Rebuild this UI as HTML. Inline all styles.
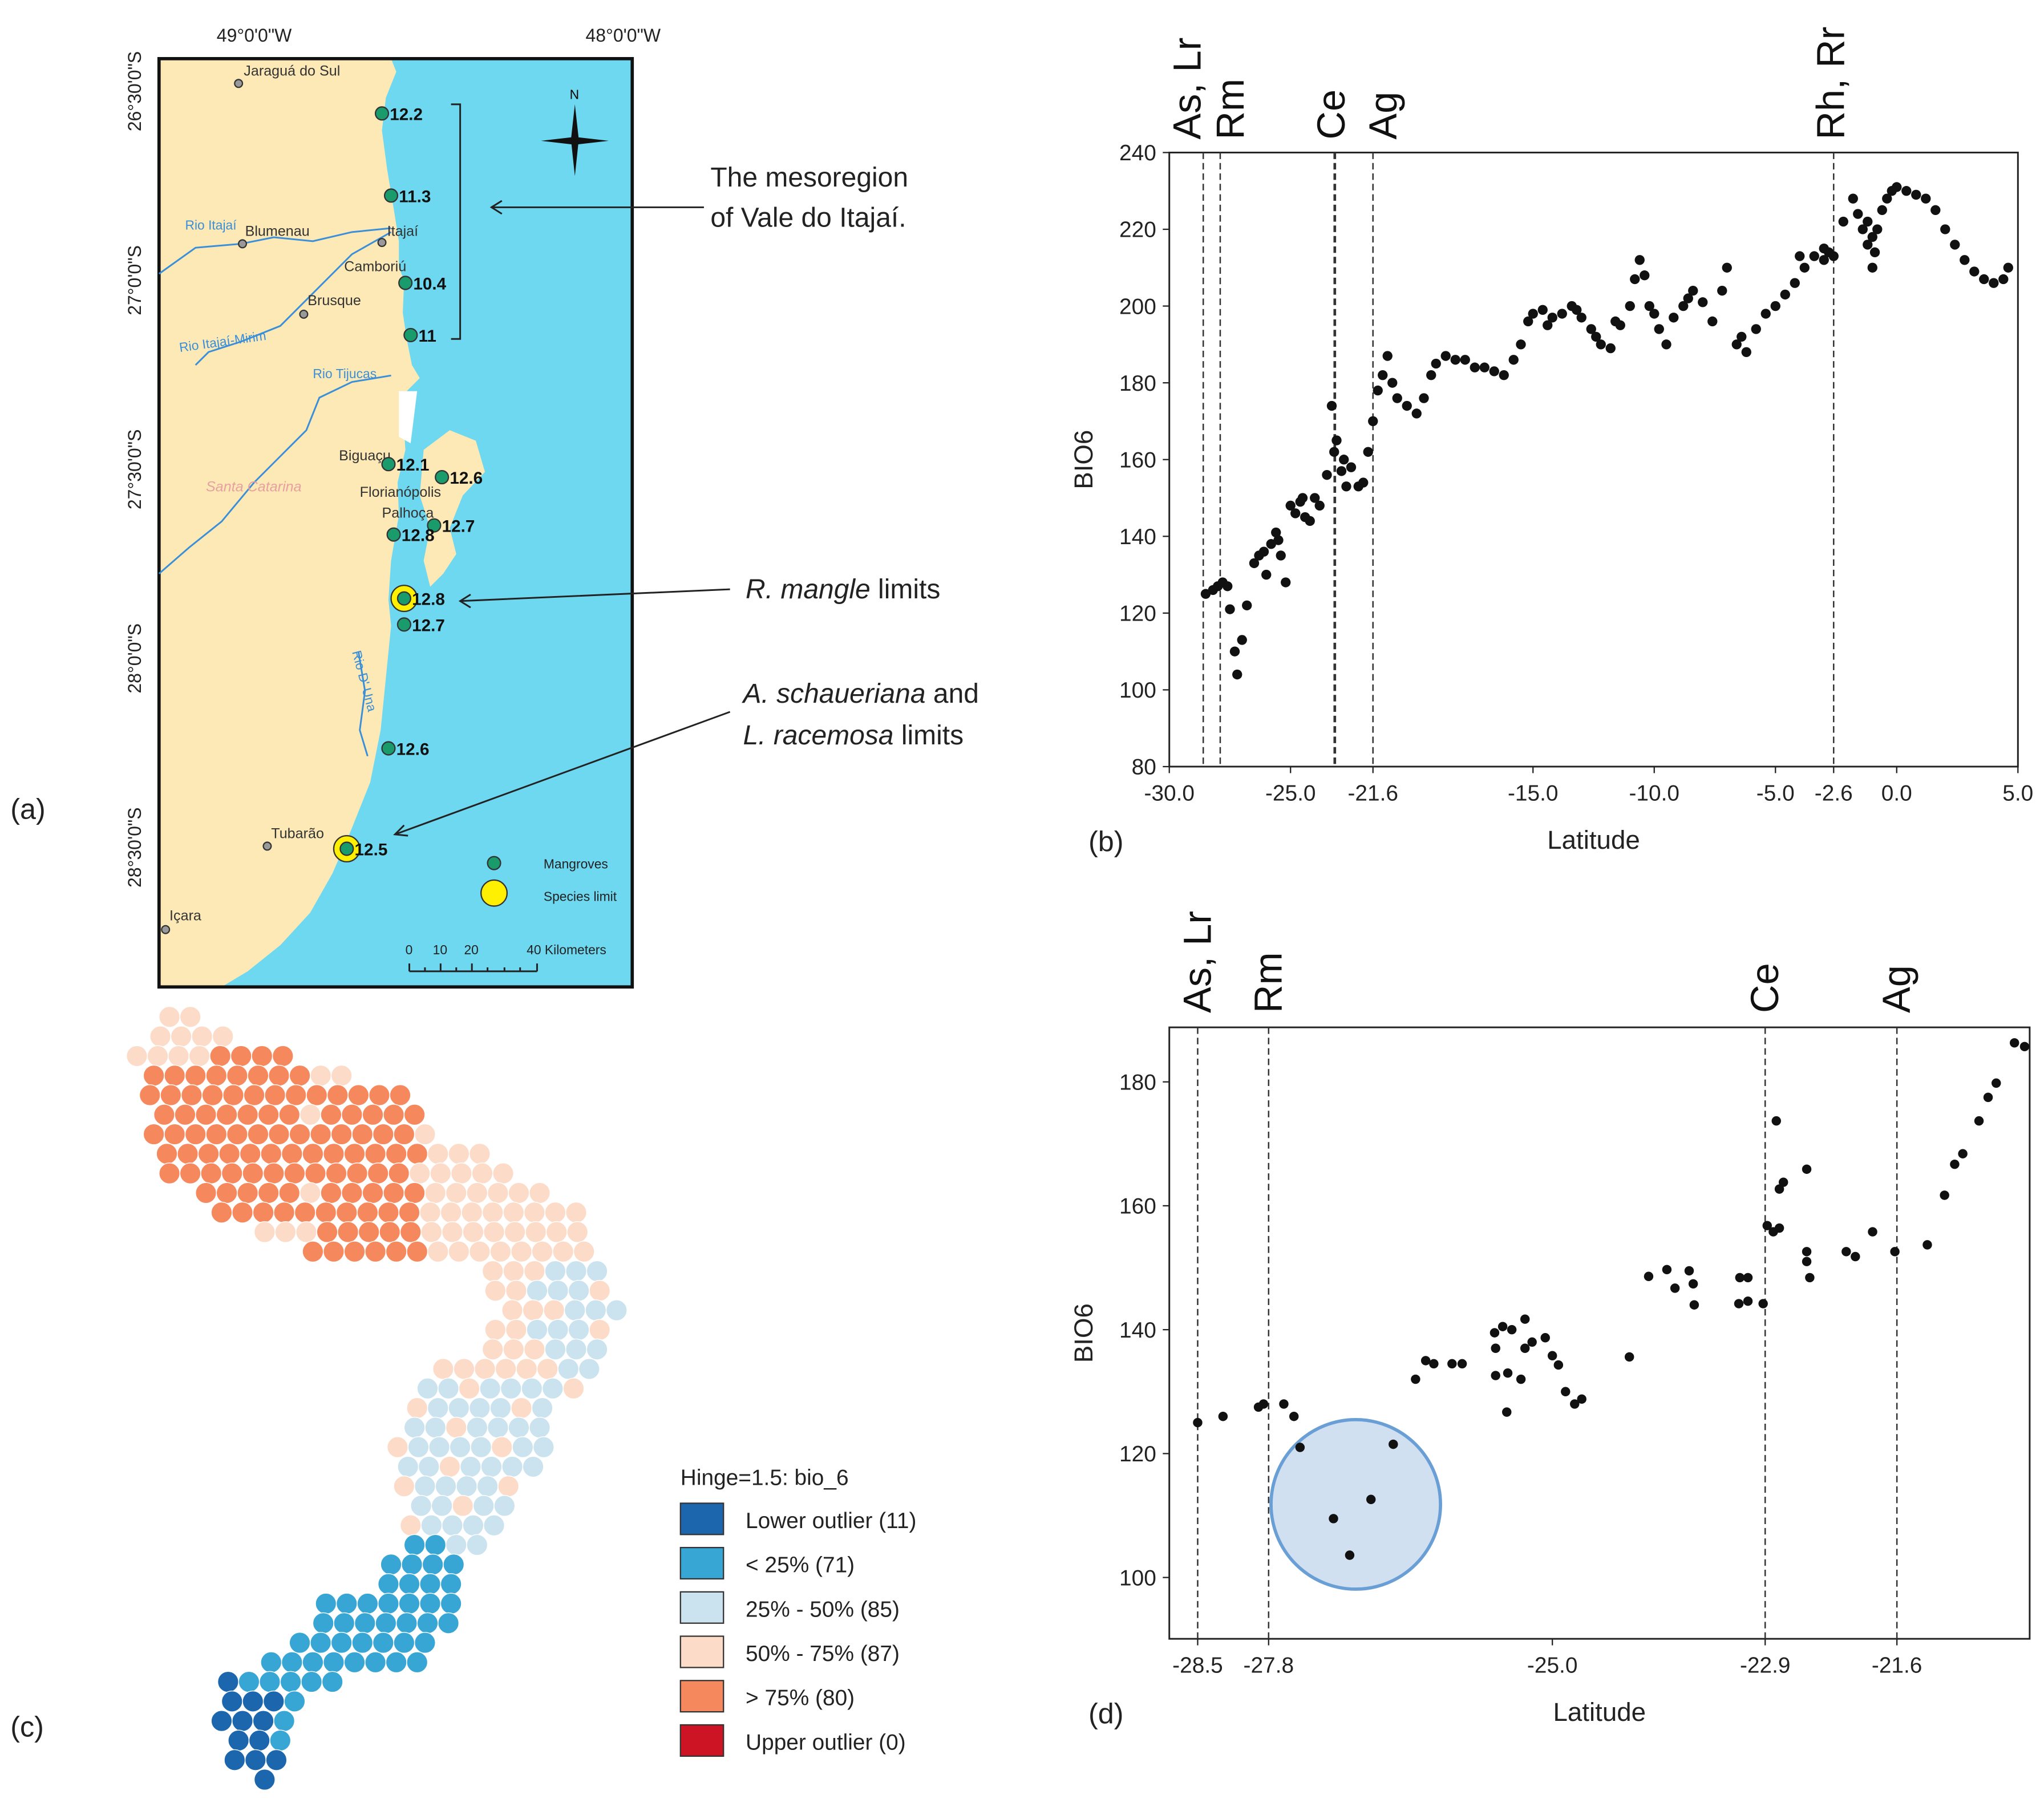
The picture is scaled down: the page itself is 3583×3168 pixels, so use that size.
<!DOCTYPE html>
<html><head><meta charset="utf-8"><style>
html,body{margin:0;padding:0;background:#fff}
svg{display:block}
text{font-family:"Liberation Sans",sans-serif}
</style></head><body>
<svg id="fig" xmlns="http://www.w3.org/2000/svg" width="3583" height="3168" viewBox="0 0 1568 1386" preserveAspectRatio="none">
<rect width="1568" height="1386" fill="#fff"/>

<!-- Panel a: map -->
<g>
  <rect x="122" y="45" width="363" height="712" fill="#6ed8f0"/>
  <path fill="#fde9b5" d="M122,45 L300,45 L304,55 L296,75 L293,100 L297,130 L302,160 L306,185 L306,205 L310,215 L309,240 L312,260 L316,280 L322,290 L312,300 L310,330 L311,345 L305,370 L306,395 L300,430 L298,460 L300,480 L296,520 L292,560 L284,600 L268,640 L255,670 L238,700 L215,725 L190,745 L170,757 L122,757 Z"/>
  <path fill="#fde9b5" d="M325,345 L345,330 L365,338 L372,362 L355,380 L345,405 L350,425 L340,440 L330,450 L325,430 L330,405 L322,380 Z"/>
  <path fill="#fff" d="M306,300 L320,300 L315,340 L306,335 Z"/>
  <rect x="122" y="45" width="363" height="712" fill="none" stroke="#111" stroke-width="2.5"/>
  <g fill="none" stroke="#3a8fd8" stroke-width="1.3">
    <path d="M122,210 L150,190 L185,187 L210,182 L240,185 L270,178 L300,175"/>
    <path d="M300,178 L270,195 L240,225 L215,250 L185,262 L160,270 L150,280"/>
    <path d="M300,288 L270,293 L245,305 L235,330 L215,350 L195,370 L170,400 L145,420 L122,440"/>
    <path d="M275,500 L280,530 L276,560 L282,580"/>
  </g>
  <g font-size="11" fill="#333">
    <text x="187" y="58">Jaraguá do Sul</text><circle cx="183" cy="64" r="3" fill="#999" stroke="#333"/>
    <text x="188" y="181">Blumenau</text><circle cx="186" cy="187" r="3" fill="#999" stroke="#333"/>
    <text x="297" y="181">Itajaí</text><circle cx="293" cy="186" r="3" fill="#999" stroke="#333"/>
    <text x="264" y="208">Camboriú</text>
    <text x="236" y="234">Brusque</text><circle cx="233" cy="241" r="3" fill="#999" stroke="#333"/>
    <text x="260" y="353">Biguaçu</text>
    <text x="276" y="381">Florianópolis</text>
    <text x="293" y="397">Palhoça</text>
    <text x="208" y="643">Tubarão</text><circle cx="205" cy="649" r="3" fill="#999" stroke="#333"/>
    <text x="130" y="706">Içara</text><circle cx="127" cy="713" r="3" fill="#999" stroke="#333"/>
    <text x="158" y="377" fill="#e8a0a0" font-style="italic">Santa Catarina</text>
  </g>
  <g font-size="10" fill="#3a8fd8">
    <text x="142" y="176">Rio Itajaí</text>
    <text x="138" y="270" transform="rotate(-8 138 270)">Rio Itajaí-Mirim</text>
    <text x="240" y="290">Rio Tijucas</text>
    <text x="270" y="500" transform="rotate(75 270 500)">Rio D' Una</text>
  </g>
  <g font-size="13" font-weight="bold" fill="#111">
    <circle cx="310" cy="459" r="10" fill="#ffef00" stroke="#333"/>
    <circle cx="266" cy="651" r="10" fill="#ffef00" stroke="#333"/>
    <g fill="#1a9b6c" stroke="#333" stroke-width="1">
      <circle cx="293" cy="87" r="5"/><circle cx="300" cy="150" r="5"/><circle cx="311" cy="217" r="5"/><circle cx="315" cy="257" r="5"/>
      <circle cx="298" cy="356" r="5"/><circle cx="339" cy="366" r="5"/><circle cx="302" cy="410" r="5"/><circle cx="333" cy="403" r="5"/>
      <circle cx="310" cy="459" r="5"/><circle cx="310" cy="479" r="5"/><circle cx="298" cy="574" r="5"/><circle cx="266" cy="651" r="5"/>
    </g>
    <text x="299" y="92">12.2</text><text x="306" y="155">11.3</text><text x="317" y="222">10.4</text><text x="321" y="262">11</text>
    <text x="304" y="361">12.1</text><text x="345" y="371">12.6</text><text x="308" y="415">12.8</text><text x="339" y="408">12.7</text>
    <text x="316" y="464">12.8</text><text x="316" y="484">12.7</text><text x="304" y="579">12.6</text><text x="272" y="656">12.5</text>
  </g>
  <path d="M346,80 L353,80 L353,260 L346,260" fill="none" stroke="#222" stroke-width="1.3"/>
  <g>
    <path d="M441,80 L444,107 L441,135 L438,107 Z M415,108 L441,105 L467,108 L441,111 Z" fill="#111"/>
    <text x="437" y="76" font-size="10" font-family="Liberation Serif,serif">N</text>
  </g>
  <g font-size="10" fill="#222">
    <circle cx="379" cy="662" r="5" fill="#1a9b6c" stroke="#333"/><text x="417" y="666">Mangroves</text>
    <circle cx="379" cy="685" r="10" fill="#ffef00" stroke="#333"/><text x="417" y="691">Species limit</text>
  </g>
  <g font-size="10" fill="#222">
    <text x="311" y="732">0</text><text x="332" y="732">10</text><text x="356" y="732">20</text><text x="404" y="732">40 Kilometers</text>
    <path d="M314,745 L412,745 M314,739 L314,745 M338,739 L338,745 M362,739 L362,745 M412,739 L412,745 M326,742 L326,745 M350,742 L350,745 M374,742 L374,745 M387,742 L387,745 M399,742 L399,745" stroke="#222" stroke-width="1.3"/>
  </g>
  <g font-size="14" fill="#222">
    <text x="195" y="32" text-anchor="middle">49°0'0"W</text>
    <text x="478" y="32" text-anchor="middle">48°0'0"W</text>
    <text transform="translate(108,70) rotate(-90)" text-anchor="middle">26°30'0"S</text>
    <text transform="translate(108,215) rotate(-90)" text-anchor="middle">27°0'0"S</text>
    <text transform="translate(108,360) rotate(-90)" text-anchor="middle">27°30'0"S</text>
    <text transform="translate(108,505) rotate(-90)" text-anchor="middle">28°0'0"S</text>
    <text transform="translate(108,650) rotate(-90)" text-anchor="middle">28°30'0"S</text>
  </g>
  <g font-size="21" fill="#222" font-family="Liberation Sans,sans-serif">
    <text x="545" y="143">The mesoregion</text>
    <text x="545" y="174">of Vale do Itajaí.</text>
    <path d="M540,159 L377,159 M385,154 L377,159 L385,164" fill="none" stroke="#222" stroke-width="1.3"/>
    <text x="572" y="459"><tspan font-style="italic">R. mangle</tspan> limits</text>
    <path d="M560,452 L353,461 M361,456 L353,461 L361,466" fill="none" stroke="#222" stroke-width="1.3"/>
    <text x="570" y="539"><tspan font-style="italic">A. schaueriana</tspan> and</text>
    <text x="570" y="571"><tspan font-style="italic">L. racemosa</tspan> limits</text>
    <path d="M560,546 L303,640 M310,633 L303,640 L313,641" fill="none" stroke="#222" stroke-width="1.3"/>
  </g>
  <text x="8" y="628" font-size="22" fill="#222">(a)</text>
</g>

<!-- Panel c -->
<g id="hexmap"></g>
<text x="8" y="1332" font-size="22" fill="#222">(c)</text>
<g font-size="17" fill="#222">
  <text x="522" y="1139">Hinge=1.5: bio_6</text>
  <rect x="522" y="1153" width="33" height="24" fill="#1b66ad" stroke="#333"/><text x="572" y="1172">Lower outlier (11)</text>
  <rect x="522" y="1187" width="33" height="24" fill="#38a6d4" stroke="#333"/><text x="572" y="1206">&lt; 25% (71)</text>
  <rect x="522" y="1221" width="33" height="24" fill="#cbe3ef" stroke="#333"/><text x="572" y="1240">25% - 50% (85)</text>
  <rect x="522" y="1255" width="33" height="24" fill="#fcdcc8" stroke="#333"/><text x="572" y="1274">50% - 75% (87)</text>
  <rect x="522" y="1289" width="33" height="24" fill="#f5895d" stroke="#333"/><text x="572" y="1308">&gt; 75% (80)</text>
  <rect x="522" y="1323" width="33" height="24" fill="#cc1424" stroke="#333"/><text x="572" y="1342">Upper outlier (0)</text>
</g>

<!-- Panel b -->
<g id="chartB"></g>
<!-- Panel d -->
<g id="chartD"></g>
</svg>
<script>
const NS='http://www.w3.org/2000/svg';
function mk(parent,tag,attrs,txt){const e=document.createElementNS(NS,tag);for(const k in attrs)e.setAttribute(k,attrs[k]);if(txt!==undefined)e.textContent=txt;parent.appendChild(e);return e;}

// ---- Chart B data ----
const bLat=[-28.5,-28.2,-28.0,-27.8,-27.6,-27.5,-27.3,-27.2,-27.0,-26.8,-26.5,-26.3,-26.0,-25.8,-25.6,-25.4,-25.2,-25.0,-24.8,-24.6,-24.4,-24.2,-24.0,-23.8,-23.5,-23.3,-23.1,-22.9,-22.7,-22.5,-22.2,-22.0,-21.8,-21.6,-21.4,-21.2,-21.0,-20.8,-20.6,-20.2,-19.8,-19.5,-19.2,-19.0,-18.6,-18.2,-17.8,-17.4,-17.0,-16.6,-16.2,-15.8,-15.5,-15.2,-15.0,-14.6,-14.2,-13.8,-13.4,-13.0,-12.6,-12.2,-11.8,-11.4,-11.0,-10.8,-10.6,-10.4,-10.2,-9.8,-9.5,-9.2,-8.8,-8.4,-8.0,-7.6,-7.2,-7.0,-6.6,-6.2,-5.8,-5.4,-5.0,-4.6,-4.2,-3.8,-3.4,-3.0,-2.6,-2.2,-1.8,-1.6,-1.4,-1.2,-1.0,-0.8,-0.6,-0.4,-0.2,0.0,0.4,0.8,1.2,1.6,2.0,2.4,2.8,3.2,3.6,4.0,4.4,4.6,-4.0,-3.0,-2.8,-1.2,-1.0,-0.9,-12.4,-11.6,-10.0,-8.6,-26.1,-25.5,-24.5,-23.2,-22.8,-14.4,-13.2,-6.4];
const bVal=[125,126,127,128,127,121,110,104,113,122,133,135,130,138,141,135,128,148,146,149,145,144,150,148,156,174,165,157,153,158,153,154,162,170,178,182,187,180,176,174,172,176,182,185,187,186,186,184,184,183,182,186,190,196,198,199,197,198,200,197,194,190,189,195,200,207,212,208,200,194,190,197,200,204,201,196,204,210,190,188,194,198,200,203,206,210,213,215,213,222,228,224,220,216,210,220,225,228,230,231,230,229,228,225,220,216,212,209,207,206,207,210,213,212,214,222,218,214,192,196,198,202,136,139,150,162,160,195,199,192];
const bXTicks=[-30.0,-25.0,-21.6,-15.0,-10.0,-5.0,-2.6,0.0,5.0];
const bYTicks=[80,100,120,140,160,180,200,220,240];
const bLineLabels=[{lat:-28.6,t:'As, Lr',dx:-2},{lat:-27.9,t:'Rm',dx:18},{lat:-23.2,t:'Ce',dx:8},{lat:-23.15,t:'',dx:0},{lat:-21.6,t:'Ag',dx:18},{lat:-2.6,t:'Rh, Rr',dx:8}];

// ---- Chart D data ----
const dLat=[-28.5,-28.25,-27.9,-27.85,-27.65,-27.55,-27.49,-26.57,-26.79,-27.16,-27.0,-26.35,-26.25,-26.17,-25.99,-25.89,-25.57,-25.49,-25.4,-25.27,-25.56,-25.44,-25.56,-25.45,-25.31,-25.27,-25.2,-25.07,-25.0,-24.94,-24.87,-24.78,-24.71,-24.24,-24.05,-23.87,-23.79,-23.65,-23.61,-23.6,-23.15,-23.07,-23.16,-23.07,-22.92,-22.88,-22.82,-22.79,-22.76,-22.72,-22.76,-22.49,-22.49,-22.49,-22.46,-22.1,-22.01,-21.84,-21.62,-21.3,-21.13,-21.03,-20.95,-20.79,-20.7,-20.62,-20.44,-20.34];
const dVal=[125,126,127.5,128,128,126,121,121.5,112.6,109.5,103.6,132,135,134.5,134.5,134.5,139.5,140.5,140,141.7,137,133,132.6,126.7,132,137,138,138.7,135.8,134.3,130,128,128.8,135.6,148.6,149.7,146.7,149.5,147.4,144,148.4,148.4,144.2,144.6,144.2,156.8,155.8,173.7,162.7,163.8,156.4,165.9,152.6,151,148.4,152.6,151.8,155.8,152.6,153.7,161.7,166.7,168.4,173.7,177.5,179.8,186.3,185.7];
const dXTicks=[-28.5,-27.8,-25.0,-22.9,-21.6];
const dYTicks=[100,120,140,160,180];
const dLineLabels=[{lat:-28.5,t:'As, Lr',dx:10},{lat:-27.8,t:'Rm',dx:10},{lat:-22.9,t:'Ce',dx:10},{lat:-21.6,t:'Ag',dx:10}];

function drawChart(g,cfg,lats,vals,xt,yt,lines,labelPrefix){
  const x=v=>cfg.x0+(v-cfg.xmin)/(cfg.xmax-cfg.xmin)*(cfg.x1-cfg.x0);
  const y=v=>cfg.y1-(v-cfg.ymin)/(cfg.ymax-cfg.ymin)*(cfg.y1-cfg.y0);
  const fr=mk(g,'rect',{x:cfg.x0,y:cfg.y0,width:cfg.x1-cfg.x0,height:cfg.y1-cfg.y0,fill:'none',stroke:'#222','stroke-width':1.3});
  
  
  lines.forEach(L=>{
    const ln=mk(g,'line',{x1:x(L.lat),x2:x(L.lat),y1:cfg.y0,y2:cfg.y1,stroke:'#333','stroke-width':1.1,'stroke-dasharray':'5,3'});
    
    
    if(L.t){
      const t=mk(g,'text',{transform:`translate(${x(L.lat)+L.dx},${cfg.labelY}) rotate(-90)`,'font-size':30,fill:'#111'},L.t);
      
      
    }
  });
  xt.forEach(v=>{
    mk(g,'line',{x1:x(v),x2:x(v),y1:cfg.y1,y2:cfg.y1+5,stroke:'#222'});
    const t=mk(g,'text',{x:x(v),y:cfg.y1+26,'text-anchor':'middle','font-size':17,fill:'#222'},v.toFixed(1));
    
    
  });
  yt.forEach(v=>{
    mk(g,'line',{x1:cfg.x0-5,x2:cfg.x0,y1:y(v),y2:y(v),stroke:'#222'});
    const t=mk(g,'text',{x:cfg.x0-10,y:y(v)+6,'text-anchor':'end','font-size':17,fill:'#222'},v);
    
    
  });
  if(cfg.circle){
    const c=mk(g,'circle',{cx:x(cfg.circle[0]),cy:y(cfg.circle[1]),r:65,fill:'#c5d8ee',stroke:'#6a9fd6','stroke-width':2.5,'fill-opacity':0.8});
    
    
  }
  for(let i=0;i<lats.length;i++){
    const p=mk(g,'circle',{cx:x(lats[i]),cy:y(vals[i]),r:cfg.r,fill:'#111'});
    
    
  }
  const xl=mk(g,'text',{x:(cfg.x0+cfg.x1)/2,y:cfg.y1+63,'text-anchor':'middle','font-size':20,fill:'#222'},'Latitude');
  
  
  const yl=mk(g,'text',{transform:`translate(838,${(cfg.y0+cfg.y1)/2}) rotate(-90)`,'text-anchor':'middle','font-size':20,fill:'#222'},'BIO6');
  
  
  const pl=mk(g,'text',{x:835,y:cfg.y1+65,'font-size':22,fill:'#222'},labelPrefix);
  
  
}
drawChart(document.getElementById('chartB'),{x0:897,x1:1548,y0:117,y1:588,xmin:-30,xmax:5,ymin:80,ymax:240,labelY:107,r:3.8},bLat,bVal,bXTicks,bYTicks,bLineLabels,'(b)');
drawChart(document.getElementById('chartD'),{x0:897,x1:1557,y0:788,y1:1257,xmin:-28.78,xmax:-20.29,ymin:90.1,ymax:188.8,labelY:777,r:3.6,circle:[-26.94,111.8]},dLat,dVal,dXTicks,dYTicks,dLineLabels,'(d)');

// ---- Hex map (panel c) ----
const rows=[[780,130,150],[795,115,185],[810,105,220],[825,110,270],[840,115,320],[855,118,330],[870,118,340],[885,120,370],[900,130,400],[915,150,420],[930,170,445],[945,195,455],[960,240,460],[975,370,470],[990,380,475],[1005,385,475],[1020,380,470],[1035,370,465],[1050,340,460],[1065,320,440],[1080,320,420],[1095,310,420],[1110,305,420],[1125,305,410],[1140,310,400],[1155,315,395],[1170,315,385],[1185,310,375],[1200,300,360],[1215,290,355],[1230,250,350],[1245,240,345],[1260,230,335],[1275,200,320],[1290,175,255],[1305,170,240],[1320,170,230],[1335,175,225],[1350,180,220],[1365,195,210]];
const hm=document.getElementById('hexmap');
rows.forEach((r,ri)=>{
  const off=(ri%2)?8:0;
  for(let cx=r[1]+off;cx<=r[2];cx+=16){
    const cy=r[0];let col;
    if(cy<965){
      const orangeA=(cx>=112&&cx<=235&&cy>=800&&cy<=940);
      const orangeB=(cx>=240&&cx<=320&&cy>=830&&cy<=975);
      col=(orangeA||orangeB)?'#f5895d':'#fcdcc8';
      if(cy<=830&&cx>=120&&cx<=160&&cy<=815)col='#fcdcc8';
    } else if(cy<1175){
      col=((cx*7+cy*3)%5===0||(cy<1060&&cx<410))?'#fcdcc8':'#cbe3ef';
    } else if(cy<1200){
      col=(cx>340)?'#cbe3ef':'#38a6d4';
    } else {
      col='#38a6d4';
      if(cy>=1305&&cx<215)col='#1b66ad';
      if(cy>=1290&&cy<1305&&cx<190)col='#1b66ad';
    }
    const c=mk(hm,'circle',{cx:cx,cy:cy,r:8,fill:col,stroke:'#fff','stroke-width':0.6});
    
    
  }
});
</script>
</body></html>
